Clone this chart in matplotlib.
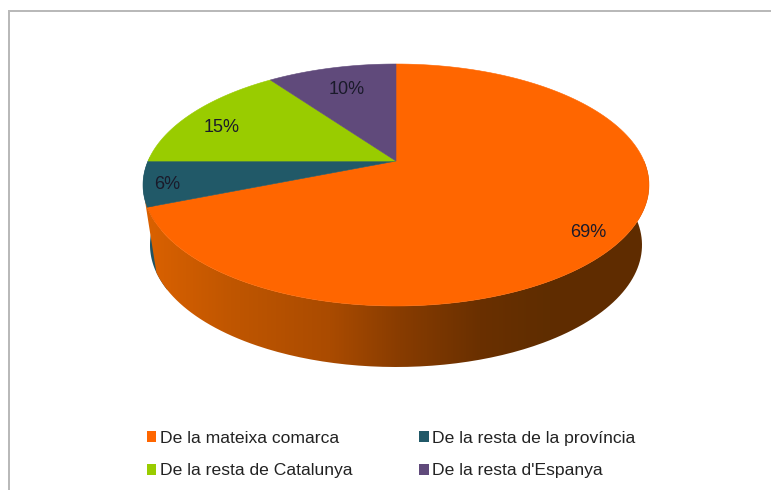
import numpy as np
import matplotlib
matplotlib.use("Agg")
import matplotlib.pyplot as plt
from matplotlib.patches import Polygon, PathPatch, Rectangle
from matplotlib.path import Path

plt.rcParams["font.family"] = ["Liberation Sans", "DejaVu Sans"]

categories = ["De la mateixa comarca", "De la resta de la província",
              "De la resta de Catalunya", "De la resta d'Espanya"]
values = [69, 6, 15, 10]
colors = ["#ff6600", "#215968", "#99cc00", "#604a7b"]
label_pos = [(588, 232), (167, 184), (222, 127), (347, 89)]

# disc on the page, pixels
cx, cy, rx, ry = 396, 185, 253, 121
skew = 0.198  # moves the apex up, fake perspective
depth = 60
rx_low = 246


def disc(theta):
    # theta clockwise from the top, degrees
    t = np.radians(theta)
    x, y = np.sin(t), np.cos(t)
    d = 1 + skew * y
    X = x * np.sqrt(1 - skew ** 2) / d
    Y = (y + skew) / d
    return cx + rx * X, cy - ry * Y


def low(theta):
    x, y = disc(theta)
    return cx + (x - cx) * rx_low / rx, y + depth + (y - cy) / ry


def wall_shape(t0, t1, b0, b1):
    top_x, top_y = disc(np.linspace(t0, t1, 200))
    low_x, low_y = low(np.linspace(b0, b1, 200))
    return np.vstack([np.column_stack([top_x, top_y]), np.column_stack([low_x, low_y])[::-1]])


fig = plt.figure(figsize=(7.71, 4.9), dpi=100)
ax = fig.add_axes([0, 0, 1, 1])
ax.set_xlim(0, 771)
ax.set_ylim(490, 0)
ax.axis("off")

ax.plot([9, 9, 771], [490, 11, 11], color="#b9b9b9", lw=1.44, solid_joinstyle="miter")

starts = np.cumsum([0] + values[:-1]) * 3.6
ends = np.cumsum(values) * 3.6

# bit of blue wall on the far left, under the orange one
ax.add_patch(Polygon(wall_shape(238, 272, 238, 272), fc="#1f5363", ec="none", zorder=1))

# wall gradient of the orange slice, clipped to the wall
wall = wall_shape(90, 252, 90, 246)
grad_x = np.array([148, 230, 330, 400, 480, 550, 650])
grad_c = np.array([[218, 97, 0], [192, 86, 0], [170, 75, 0], [136, 60, 0],
                   [106, 48, 0], [95, 45, 0], [96, 44, 0]]) / 255
xs = np.linspace(140, 655, 300)
img = np.stack([np.interp(xs, grad_x, grad_c[:, i]) for i in range(3)], axis=-1)[None, :, :]
im = ax.imshow(img, extent=[140, 655, 380, 150], aspect="auto", zorder=1.5)
im.set_clip_path(PathPatch(Path(wall), transform=ax.transData))
ax.set_xlim(0, 771)
ax.set_ylim(490, 0)

for s, e, c in zip(starts, ends, colors):
    a = np.linspace(s, e, 150)
    x, y = disc(a)
    pts = np.vstack([[cx, cy - ry * skew], np.column_stack([x, y])])
    ax.add_patch(Polygon(pts, fc=c, ec=c, lw=0.4, zorder=2))

for v, (x, y) in zip(values, label_pos):
    ax.text(x, y, f"{v}%", ha="center", va="center", fontsize=13, color="#1a1a2a", zorder=3)

handles = [Rectangle((0, 0), 1, 1, fc=c, ec="none") for c in colors]
order = [0, 2, 1, 3]
ax.legend([handles[i] for i in order], [categories[i] for i in order], ncol=2, frameon=False,
          loc="upper left", bbox_to_anchor=(143 / 771, 1 - 427 / 490), fontsize=12.6,
          handlelength=0.57, handleheight=0.57, handletextpad=0.2, columnspacing=3.8,
          labelspacing=1.02, borderpad=0.2, borderaxespad=0, labelcolor="#222222")

fig.savefig("out.png", dpi=100)
